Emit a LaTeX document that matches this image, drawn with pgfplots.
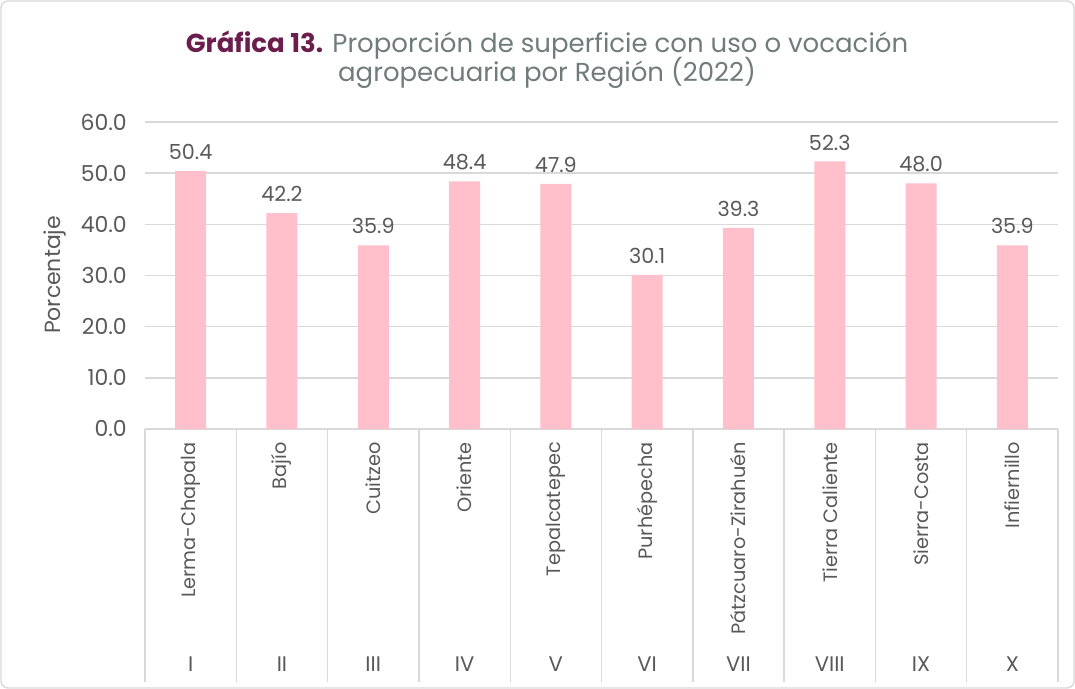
\documentclass[border=0pt]{standalone}
\usepackage{fontspec}
\setmainfont{Poppins}
\usepackage{pgfplots}
\pgfplotsset{compat=1.18}
\definecolor{barpink}{HTML}{FFC0CB}
\definecolor{gridgrey}{HTML}{D9D9D9}
\definecolor{txtgrey}{HTML}{595959}
\definecolor{ttlgrey}{HTML}{6F7C7A}
\definecolor{ttlwine}{HTML}{6B1E4B}

\begin{document}
\begin{tikzpicture}
% frame of the whole chart (1px = 0.02cm)
\draw[gridgrey, line width=0.8pt, rounded corners=4pt] (0.02,-0.02) rectangle (21.48,-13.76);

\node[anchor=base, font=\fontsize{14.8}{18}\selectfont] at (10.94,-1.06)
  {\textcolor{ttlwine}{\bfseries Gráfica 13.} \textcolor{ttlgrey}{Proporción de superficie con uso o vocación}};
\node[anchor=base, font=\fontsize{14.8}{18}\selectfont, text=ttlgrey] at (10.94,-1.64)
  {agropecuaria por Región (2022)};

\node[rotate=90, font=\fontsize{12.5}{15}\selectfont, text=txtgrey] at (1.1,-5.5) {Porcentaje};

\begin{axis}[
  at={(2.9cm,-8.58cm)}, anchor=south west,
  scale only axis, width=18.26cm, height=6.14cm,
  ybar, bar width=0.62cm,
  xmin=-0.5, xmax=9.5, ymin=0, ymax=60,
  ytick={0,10,...,60},
  yticklabel style={/pgf/number format/.cd, fixed, fixed zerofill, precision=1, /tikz/.cd,
                    font=\fontsize{12.5}{15}\selectfont, text=txtgrey, xshift=-0.24cm},
  /pgf/number format/assume math mode=true,
  xtick={0,...,9},
  xtick pos=bottom,
  xticklabels={Lerma-Chapala, Bajío, Cuitzeo, Oriente, Tepalcatepec, Purhépecha,
               Pátzcuaro-Zirahuén, Tierra Caliente, Sierra-Costa, Infiernillo},
  xticklabel style={yshift=-0.14cm, rotate=90, anchor=east, font=\fontsize{11}{14}\selectfont, text=txtgrey},
  major tick length=0pt,
  extra x ticks={-0.5,0.5,...,9.5},
  extra x tick labels={},
  extra x tick style={tick align=outside, major tick length=5.06cm,
                      tick style={draw=gridgrey, line width=0.8pt}, grid=none},
  ymajorgrids, grid style={gridgrey, line width=0.8pt},
  axis line style={draw=none},
  ytick style={draw=none},
  nodes near coords={\pgfmathprintnumber[fixed,fixed zerofill,precision=1]{\pgfplotspointmeta}},
  every node near coord/.append style={font=\fontsize{11.8}{14}\selectfont, text=txtgrey, yshift=0.1cm},
  clip=false,
]
\addplot[fill=barpink, draw=none] coordinates {
  (0,50.4) (1,42.2) (2,35.9) (3,48.4) (4,47.9)
  (5,30.1) (6,39.3) (7,52.3) (8,48.0) (9,35.9)};

\node[anchor=base, font=\fontsize{12}{14}\selectfont, text=txtgrey] at (axis cs:0,0) [yshift=-4.85cm] {I};
\node[anchor=base, font=\fontsize{12}{14}\selectfont, text=txtgrey] at (axis cs:1,0) [yshift=-4.85cm] {II};
\node[anchor=base, font=\fontsize{12}{14}\selectfont, text=txtgrey] at (axis cs:2,0) [yshift=-4.85cm] {III};
\node[anchor=base, font=\fontsize{12}{14}\selectfont, text=txtgrey] at (axis cs:3,0) [yshift=-4.85cm] {IV};
\node[anchor=base, font=\fontsize{12}{14}\selectfont, text=txtgrey] at (axis cs:4,0) [yshift=-4.85cm] {V};
\node[anchor=base, font=\fontsize{12}{14}\selectfont, text=txtgrey] at (axis cs:5,0) [yshift=-4.85cm] {VI};
\node[anchor=base, font=\fontsize{12}{14}\selectfont, text=txtgrey] at (axis cs:6,0) [yshift=-4.85cm] {VII};
\node[anchor=base, font=\fontsize{12}{14}\selectfont, text=txtgrey] at (axis cs:7,0) [yshift=-4.85cm] {VIII};
\node[anchor=base, font=\fontsize{12}{14}\selectfont, text=txtgrey] at (axis cs:8,0) [yshift=-4.85cm] {IX};
\node[anchor=base, font=\fontsize{12}{14}\selectfont, text=txtgrey] at (axis cs:9,0) [yshift=-4.85cm] {X};
\end{axis}
% keep the page at the frame's size (empty extra tick labels sit below it)
\pgfresetboundingbox
\path[use as bounding box] (0,0) rectangle (21.5,-13.78);
\end{tikzpicture}
\end{document}
